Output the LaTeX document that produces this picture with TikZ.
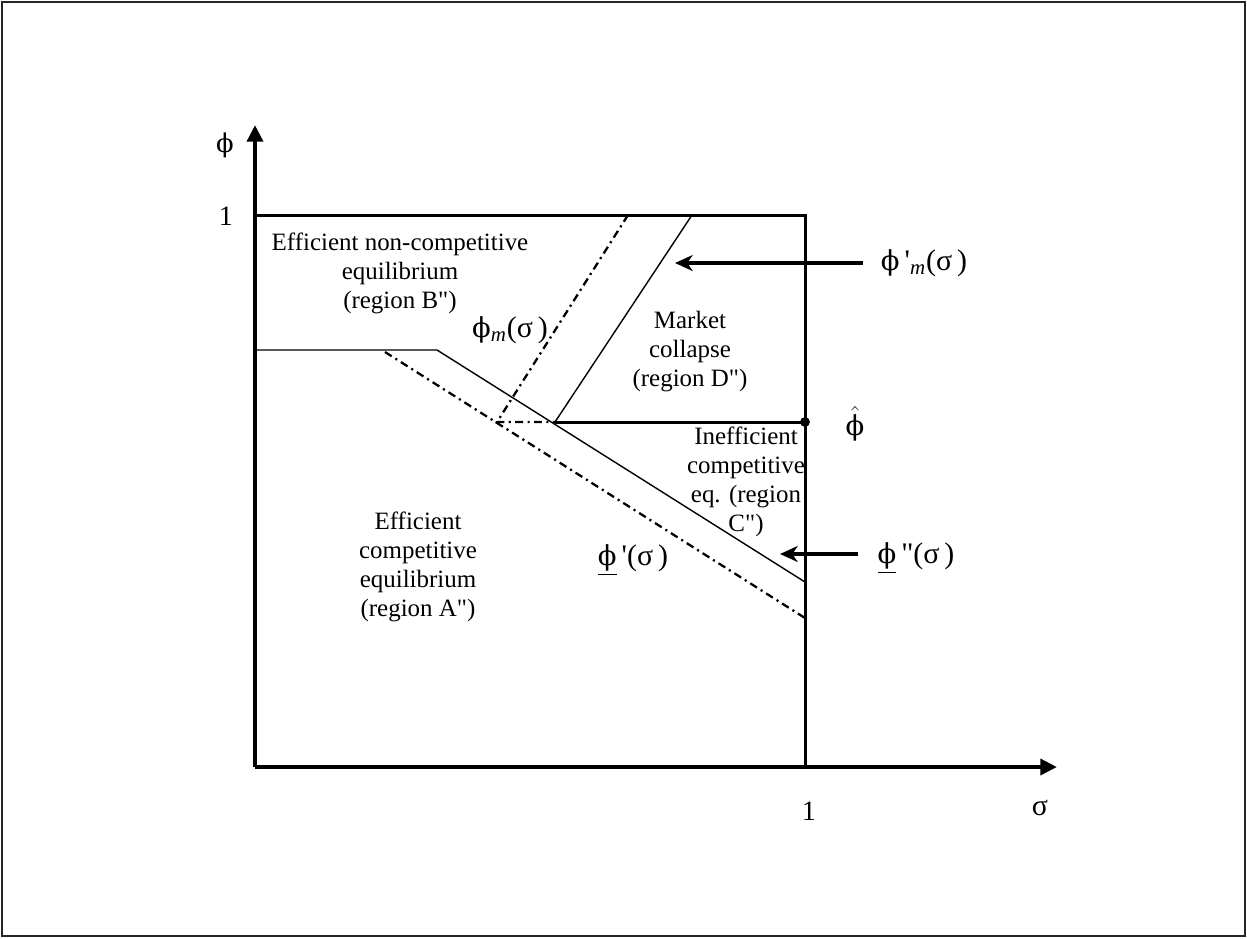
\documentclass[tikz,border=0pt]{standalone}
\usepackage{fontspec}
\setmainfont{Liberation Serif}
\newfontfamily\phifont[Scale=0.92]{DejaVu Serif}
\newcommand{\fphi}{{\phifont ϕ}}
\usetikzlibrary{arrows.meta}

\begin{document}
\begin{tikzpicture}
    [x=0.02cm, y=-0.02cm,
    line join=miter,
    achse/.style={line width=2.3pt, -{Triangle[length=9.5pt, width=9pt]}},
    rahmen/.style={line width=1.7pt},
    kurve/.style={line width=0.8pt},
    strichpunkt/.style={line width=1.3pt, dash pattern=on 4.5pt off 2.5pt on 1.2pt off 2.5pt},
    zeiger/.style={line width=1.8pt, -{Stealth[length=10pt, width=9pt, inset=3pt]}},
    region/.style={font=\fontsize{14.2}{16.5}\selectfont, align=center, inner sep=0pt},
    marke/.style={font=\fontsize{16}{18}\selectfont, inner sep=0pt},
    kurvenname/.style={font=\fontsize{17}{19}\selectfont, inner sep=0pt}]

    \useasboundingbox (0,0) rectangle (1247,938);
    \draw[line width=0.9pt, black!85] (2,2) rectangle (1245,936);

    \coordinate (O)     at (255,767);
    \coordinate (ytop)  at (255,125);
    \coordinate (xend)  at (1057,767);
    \coordinate (E01)   at (255,215);
    \coordinate (E11)   at (805,215);
    \coordinate (E10)   at (805,767);

    \draw[achse] (O) -- (ytop);
    \draw[achse] (O) -- (xend);
    \draw[rahmen] (E01) -- (E11) -- (E10);

    % Grenzlinien
    \coordinate (links) at (255,350);
    \coordinate (knick) at (437,350);
    \coordinate (unten) at (805,582);
    \coordinate (P)     at (555,422);
    \coordinate (Q)     at (497,422);
    \coordinate (dach)  at (805,422);
    \coordinate (s1)    at (385,352);
    \coordinate (s2)    at (805,618);
    \coordinate (m1)    at (628,215);
    \coordinate (m2)    at (692,215);

    \draw[kurve] (links) -- (knick) -- (unten);
    \draw[strichpunkt] (s1) -- (s2);
    \draw[strichpunkt] (m1) -- (Q) -- (P);
    \draw[kurve] (m2) -- (P);
    \draw[rahmen] (P) -- (dach);
    \fill (dach) circle (2.8pt);

    % Achsenbeschriftung
    \node[marke] (phiachse) at (225,145) {\fphi};
    \node[marke] (eins1) at (226,216) {1};
    \node[marke] (eins2) at (809,811) {1};
    \node[kurvenname] (sigma) at (1040,808) {σ};

    % Bereiche
    \node[region] (regB) at (400,273) {Efficient non-competitive\\equilibrium\\(region B\textquotedbl)};
    \node[region] (regD) at (690,352) {Market\\collapse\\(region D\textquotedbl)};
    \node[region] (regC) at (746,482) {Inefficient\\competitive\\eq. (region\\C\textquotedbl)};
    \node[region] (regA) at (418,567) {Efficient\\competitive\\equilibrium\\(region A\textquotedbl)};

    % Kurvennamen
    \node[kurvenname] (phim) at (510,330) {\fphi\textsubscript{\textit{m}}(σ\,)};
    \node[kurvenname] (phimstrich) at (924,263) {\fphi\,\textquotesingle\textsubscript{\textit{m}}(σ\,)};
    \node[kurvenname] (phidach) at (855,424) {$\hat{\mbox{\fphi}}$};
    \node[kurvenname] (phiu1) at (633,560) {\underline{\fphi}\,\textquotesingle(σ\,)};
    \node[kurvenname] (phiu2) at (916,558) {\underline{\fphi}\,\textquotedbl(σ\,)};

    \coordinate (spitze1) at (675,263);
    \coordinate (spitze2) at (780,554);
    \draw[zeiger, shorten <=10pt] (phimstrich.west |- spitze1) -- (spitze1);
    \draw[zeiger, shorten <=11pt] (phiu2.west |- spitze2) -- (spitze2);
\end{tikzpicture}
\end{document}
